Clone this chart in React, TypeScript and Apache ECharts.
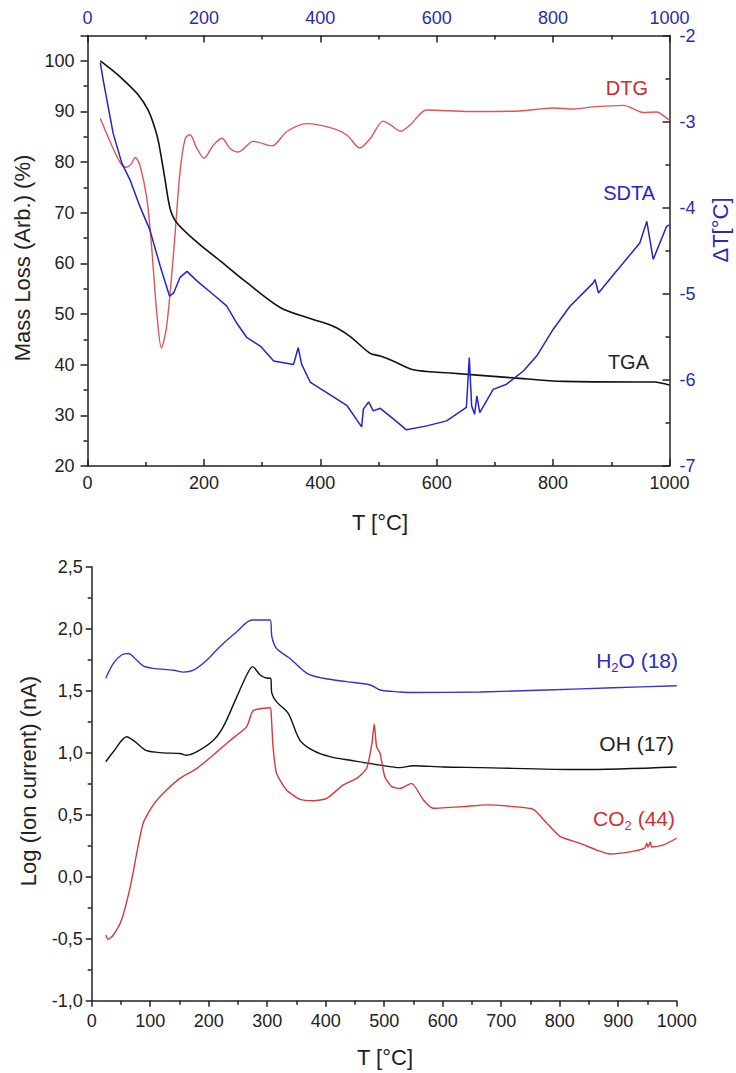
import React, { useEffect, useRef } from "react";
import * as echarts from "echarts";

// ---------- Top panel data (T in °C) ----------
const tgaData: [number, number][] = [
  [22, 100], [42, 98.2], [62, 96.2], [87, 93.3], [104, 90.3], [115, 87.0], [122, 84.0],
  [133, 76.7], [142, 70.8], [153, 68.1], [188, 64.2], [228, 60.5], [274, 56.2],
  [331, 51.3], [377, 49.3], [422, 47.6], [451, 45.6], [485, 42.3], [503, 41.7],
  [526, 40.7], [560, 39.0], [618, 38.4], [732, 37.4], [818, 36.7], [950, 36.6],
  [975, 36.6], [996, 36.1], [1000, 36.0],
];

const dtgData: [number, number][] = [
  [22, 88.6], [44, 82.7], [59, 79.4], [67, 79.0], [75, 79.6], [82, 80.9], [90, 79.4],
  [102, 72.8], [110, 63.5], [119, 50.3], [127, 43.3], [136, 47.6], [148, 62.2],
  [159, 78.1], [168, 84.7], [176, 85.4], [188, 82.7], [200, 80.8], [216, 83.3],
  [231, 84.7], [245, 82.7], [259, 82.0], [285, 84.1], [317, 83.2], [342, 86.0],
  [377, 87.6], [423, 86.6], [446, 85.3], [468, 82.8], [486, 84.7], [508, 88.1],
  [520, 87.4], [538, 86.1], [554, 87.3], [583, 90.3], [657, 90.0], [743, 90.1],
  [800, 90.7], [835, 90.5], [869, 90.9], [921, 91.2], [955, 89.8], [978, 89.9],
  [996, 88.6], [1000, 88.3],
];

const sdtaData: [number, number][] = [
  [22, -2.316], [27, -2.517], [44, -3.134], [59, -3.482], [73, -3.676], [90, -3.985],
  [107, -4.255], [125, -4.68], [141, -5.028], [148, -4.99], [159, -4.81], [171, -4.74],
  [188, -4.85], [216, -5.008], [239, -5.14], [256, -5.336], [274, -5.51], [297, -5.607],
  [320, -5.78], [354, -5.82], [362, -5.626], [368, -5.82], [383, -6.03], [411, -6.147],
  [446, -6.30], [471, -6.546], [474, -6.34], [483, -6.256], [491, -6.36], [503, -6.33],
  [526, -6.456], [548, -6.58], [583, -6.534], [617, -6.476], [651, -6.32], [656, -5.74],
  [660, -6.30], [665, -6.40], [669, -6.187], [674, -6.38], [697, -6.11], [720, -6.05],
  [749, -5.897], [772, -5.72], [800, -5.414], [829, -5.144], [869, -4.873], [872, -4.834],
  [878, -4.99], [904, -4.776], [949, -4.41], [961, -4.159], [972, -4.60], [995, -4.217],
  [1000, -4.2],
];

// ---------- Bottom panel data (T in °C, log ion current) ----------
const h2oData: [number, number][] = [
  [24, 1.60], [37, 1.72], [51, 1.788], [63, 1.80], [74, 1.76], [88, 1.70], [105, 1.68],
  [140, 1.665], [157, 1.65], [174, 1.665], [197, 1.748], [219, 1.855], [248, 1.976],
  [274, 2.07], [305, 2.07], [308, 1.935], [316, 1.84], [339, 1.76], [368, 1.64],
  [396, 1.60], [436, 1.573], [476, 1.546], [493, 1.506], [527, 1.49], [550, 1.485],
  [664, 1.49], [778, 1.506], [892, 1.524], [1000, 1.54],
];

const ohData: [number, number][] = [
  [24, 0.927], [37, 1.008], [60, 1.129], [74, 1.089], [94, 1.016], [123, 0.999],
  [151, 0.994], [162, 0.98], [180, 1.008], [208, 1.10], [225, 1.21], [248, 1.45],
  [265, 1.627], [275, 1.694], [288, 1.627], [302, 1.60], [306, 1.60], [308, 1.479],
  [316, 1.41], [336, 1.318], [356, 1.10], [379, 1.016], [407, 0.968], [447, 0.935],
  [493, 0.90], [527, 0.88], [550, 0.895], [600, 0.885], [664, 0.88], [835, 0.864],
  [1000, 0.885],
];

const co2Data: [number, number][] = [
  [24, -0.47], [28, -0.505], [37, -0.47], [51, -0.349], [66, -0.08], [77, 0.19],
  [88, 0.431], [105, 0.578], [128, 0.699], [151, 0.793], [180, 0.874], [208, 0.981],
  [237, 1.10], [265, 1.21], [276, 1.339], [305, 1.363], [307, 1.30], [310, 1.048],
  [316, 0.834], [333, 0.699], [356, 0.624], [379, 0.613], [402, 0.632], [430, 0.74],
  [453, 0.793], [470, 0.874], [479, 1.076], [483, 1.231], [487, 1.048], [493, 0.995],
  [501, 0.806], [513, 0.726], [527, 0.712], [547, 0.753], [567, 0.619], [584, 0.552],
  [635, 0.565], [675, 0.579], [721, 0.565], [755, 0.543], [778, 0.431], [801, 0.323],
  [835, 0.269], [863, 0.215], [886, 0.183], [920, 0.20], [945, 0.23], [949, 0.27],
  [951, 0.237], [955, 0.28], [957, 0.24], [977, 0.255], [1000, 0.31],
];

const FONT = "'Liberation Sans', Arial, sans-serif";
const BLACK = "#222222";
const AXIS_BLUE = "#2b2bb0";
const H2O_BLUE = "#2b2bc8";
const CO2_RED = "#d42e2e";

const lineStyle = { color: BLACK, width: 1.5 };
const plain = (v: number) => String(v);

function txt(x: number, y: number, text: string, fill: string, size: number, align = "right"): any {
  return {
    type: "text", x, y,
    style: { text, fill, font: `${size}px ${FONT}`, textAlign: align, textVerticalAlign: "middle" },
  };
}

function buildOption(): any {
  const commonX = {
    type: "value",
    min: 0,
    max: 1000,
    splitLine: { show: false },
    axisLine: { show: true, onZero: false, lineStyle },
  };
  return {
    animation: false,
    backgroundColor: "#ffffff",
    grid: [
      { left: 87.5, top: 35.5, width: 582, height: 430.5 },
      { left: 91.7, top: 566.7, width: 585, height: 434 },
    ],
    xAxis: [
      {
        ...commonX,
        gridIndex: 0,
        position: "bottom",
        interval: 200,
        axisTick: { inside: true, length: 7, lineStyle },
        minorTick: { show: true, splitNumber: 2, length: 4, lineStyle },
        axisLabel: { color: BLACK, fontSize: 18, margin: 8, fontFamily: FONT, formatter: plain },
      },
      {
        ...commonX,
        gridIndex: 0,
        position: "top",
        interval: 200,
        axisTick: { inside: true, length: 7, lineStyle },
        minorTick: { show: true, splitNumber: 2, length: 4, lineStyle },
        axisLabel: { color: AXIS_BLUE, fontSize: 18, margin: 9, fontFamily: FONT, formatter: plain },
      },
      {
        ...commonX,
        gridIndex: 1,
        position: "bottom",
        interval: 100,
        axisTick: { inside: false, length: 6, lineStyle },
        minorTick: { show: true, splitNumber: 2, length: 4, lineStyle },
        axisLabel: { color: BLACK, fontSize: 18, margin: 11, fontFamily: FONT, formatter: plain },
      },
    ],
    yAxis: [
      {
        type: "value",
        gridIndex: 0,
        position: "left",
        min: 20,
        max: 105,
        interval: 10,
        splitLine: { show: false },
        axisLine: { show: true, onZero: false, lineStyle },
        axisTick: { inside: false, length: 7, lineStyle },
        minorTick: { show: true, splitNumber: 2, length: 4, lineStyle },
        axisLabel: {
          color: BLACK, fontSize: 18, margin: 13, fontFamily: FONT, showMaxLabel: false,
          formatter: (v: number) => (v > 100 ? "" : String(v)),
        },
      },
      {
        type: "value",
        gridIndex: 0,
        position: "right",
        min: -7,
        max: -2,
        interval: 1,
        splitLine: { show: false },
        axisLine: { show: true, onZero: false, lineStyle },
        axisTick: { inside: true, length: 7, lineStyle },
        minorTick: { show: true, splitNumber: 2, length: 4, lineStyle },
        axisLabel: { color: AXIS_BLUE, fontSize: 18, margin: 10, fontFamily: FONT, formatter: plain },
      },
      {
        type: "value",
        gridIndex: 1,
        position: "left",
        min: -1,
        max: 2.5,
        interval: 0.5,
        splitLine: { show: false },
        axisLine: { show: true, onZero: false, lineStyle },
        axisTick: { inside: false, length: 6, lineStyle },
        minorTick: { show: true, splitNumber: 2, length: 4, lineStyle },
        axisLabel: {
          color: BLACK, fontSize: 18, margin: 9, fontFamily: FONT,
          formatter: (v: number) => v.toFixed(1).replace(".", ","),
        },
      },
    ],
    series: [
      { name: "DTG", type: "line", xAxisIndex: 0, yAxisIndex: 0, data: dtgData, showSymbol: false, smooth: 0.3, lineStyle: { color: "#df5555", width: 1.4 }, itemStyle: { color: "#df5555" } },
      { name: "TGA", type: "line", xAxisIndex: 0, yAxisIndex: 0, data: tgaData, showSymbol: false, smooth: 0.3, lineStyle: { color: "#111111", width: 1.6 }, itemStyle: { color: "#111111" } },
      { name: "SDTA", type: "line", xAxisIndex: 0, yAxisIndex: 1, data: sdtaData, showSymbol: false, lineStyle: { color: "#2424cc", width: 1.5 }, itemStyle: { color: "#2424cc" } },
      { name: "H2O (18)", type: "line", xAxisIndex: 2, yAxisIndex: 2, data: h2oData, showSymbol: false, smooth: 0.3, lineStyle: { color: "#3434cc", width: 1.4 }, itemStyle: { color: "#3434cc" } },
      { name: "OH (17)", type: "line", xAxisIndex: 2, yAxisIndex: 2, data: ohData, showSymbol: false, smooth: 0.3, lineStyle: { color: "#111111", width: 1.4 }, itemStyle: { color: "#111111" } },
      { name: "CO2 (44)", type: "line", xAxisIndex: 2, yAxisIndex: 2, data: co2Data, showSymbol: false, smooth: 0.2, lineStyle: { color: "#d83838", width: 1.4 }, itemStyle: { color: "#d83838" } },
    ],
    graphic: [
      { type: "text", x: 22, y: 258, rotation: Math.PI / 2, style: { text: "Mass Loss (Arb.) (%)", fill: BLACK, font: `22px ${FONT}`, textAlign: "center", textVerticalAlign: "middle" } },
      txt(380, 522, "T [°C]", BLACK, 22, "center"),
      { type: "text", x: 720, y: 230, rotation: Math.PI / 2, style: { text: "ΔT[°C]", fill: AXIS_BLUE, font: `22px ${FONT}`, textAlign: "center", textVerticalAlign: "middle" } },
      { type: "text", x: 28, y: 781, rotation: Math.PI / 2, style: { text: "Log (Ion current) (nA)", fill: BLACK, font: `22px ${FONT}`, textAlign: "center", textVerticalAlign: "middle" } },
      txt(385, 1057, "T [°C]", BLACK, 22, "center"),
      txt(648, 88, "DTG", "#d22a2a", 20),
      txt(655, 193, "SDTA", "#2424c8", 20),
      txt(649, 362, "TGA", BLACK, 20),
      // H2O (18) with subscript
      txt(678, 660, "O (18)", H2O_BLUE, 21),
      txt(618.5, 667, "2", H2O_BLUE, 13),
      txt(611.3, 660, "H", H2O_BLUE, 21),
      txt(674, 743, "OH (17)", BLACK, 21),
      // CO2 (44) with subscript
      txt(675, 818, " (44)", CO2_RED, 21),
      txt(631.8, 825, "2", CO2_RED, 13),
      txt(624.6, 818, "CO", CO2_RED, 21),
    ],
  };
}

export default function App() {
  const ref = useRef<HTMLDivElement>(null);
  useEffect(() => {
    document.body.style.margin = "0";
    const chart = echarts.init(ref.current!, undefined, { renderer: "svg", width: 736, height: 1073 });
    chart.setOption(buildOption());
    return () => chart.dispose();
  }, []);
  return <div ref={ref} style={{ width: 736, height: 1073 }} />;
}
